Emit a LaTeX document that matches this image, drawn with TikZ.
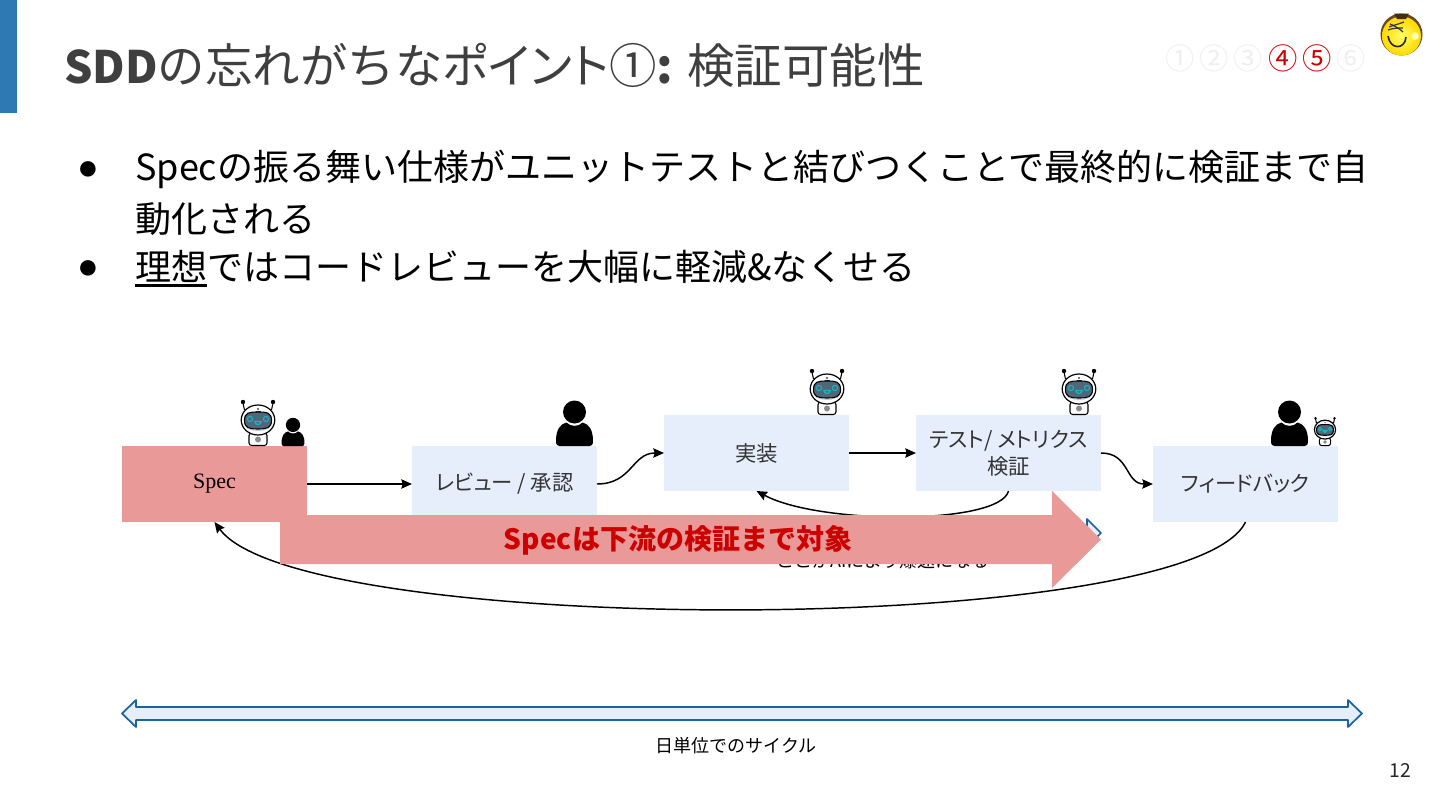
\documentclass[tikz,border=0pt]{standalone}
\usepackage{fontspec}
\usetikzlibrary{arrows.meta}
\setmainfont{Noto Sans CJK JP}
\newfontfamily\specserif{Liberation Serif}
\newfontfamily\dotfont{Liberation Sans}
\newfontfamily\paltfont[RawFeature=+palt]{Noto Sans CJK JP}
\definecolor{hdr}{HTML}{3F3F3F}
\definecolor{barblue}{HTML}{2E78B4}
\definecolor{boxblue}{HTML}{E6EEFB}
\definecolor{boxred}{HTML}{EA9999}
\definecolor{txtred}{HTML}{CC0000}
\definecolor{arrowblue}{HTML}{1A639F}
\definecolor{visor}{HTML}{50677A}
\definecolor{teal2}{HTML}{17B5C5}
\definecolor{faint}{HTML}{EFEFEF}
\newcommand{\fs}[1]{\fontsize{#1}{#1}\selectfont}
\tikzset{
  stepbox/.style={fill=boxblue,draw=none,minimum width=138.75pt,minimum height=57pt,inner sep=0pt,outer sep=0pt,align=center,font=\paltfont\fs{16},text=black!80},
  flow/.style={line width=1.1pt,-{Stealth[length=8pt,width=7pt,inset=1pt]}},
  bullettext/.style={anchor=west,inner sep=0pt,font=\fs{27},text=black},
  bulletdot/.style={inner sep=0pt,font=\dotfont\fs{27},text=black},
  circnum/.style={inner sep=0pt,font=\fs{22},text=faint},
  circon/.style={inner sep=0pt,font=\fs{22},text=txtred},
  robot/.pic={
    % body
    \draw[fill=white,line width=.8pt,rounded corners=2pt] (-9,-0.5)--(-9,-13)--(9,-13)--(9,-0.5)--cycle;
    \fill[black!45] (0,-6.5) circle[radius=3];
    % antennae
    \draw[line width=.8pt] (-13.5,-36)--(-15,-43) (13.5,-36)--(15,-43);
    \fill (-15,-44) circle[radius=2.2]; \fill (15,-44) circle[radius=2.2];
    % head
    \draw[fill=white,line width=.9pt] (0,-26) ellipse[x radius=16.8,y radius=15];
    \fill[black!22] (-16,-24) .. controls (-14,-13) and (14,-13) .. (16,-24) .. controls (13,-12) and (-13,-12) .. cycle;
    \fill[black!70] (-2.5,-35.5) rectangle (2.5,-34.5);
    \fill[black!70] (0,-37) circle[radius=1.1];
    \draw[fill=visor,line width=.8pt] (-13.5,-25.5) .. controls (-13.5,-33.5) and (-9,-34) .. (0,-34)
      .. controls (9,-34) and (13.5,-33.5) .. (13.5,-25.5)
      .. controls (13.5,-18) and (9,-17) .. (0,-17)
      .. controls (-9,-17) and (-13.5,-18) .. (-13.5,-25.5) -- cycle;
    \draw[teal2,line width=.8pt] (-8,-27) circle[radius=2.6] (8,-27) circle[radius=2.6];
    \draw[teal2,line width=.9pt] (-3.2,-24.5) .. controls (-3,-20.5) and (3,-20.5) .. (3.2,-24.5) -- cycle;
  },
  person/.pic={
    \fill (0,-34) circle[radius=11.5];
    \fill (-18.5,-5) .. controls (-18.5,-17) and (-14,-22) .. (-8,-23.5)
      .. controls (-4,-19) and (4,-19) .. (8,-23.5)
      .. controls (14,-22) and (18.5,-17) .. (18.5,-5)
      .. controls (18.5,-1) and (17,0) .. (15,0) -- (-15,0)
      .. controls (-17,0) and (-18.5,-1) .. (-18.5,-5) -- cycle;
  },
}
\begin{document}
\begin{tikzpicture}[x=0.75pt,y=-0.75pt]
\useasboundingbox (0,0) rectangle (1440,810);
\fill[white] (0,0) rectangle (1440,810);
\fill[barblue] (0,0) rectangle (17,113);
% title
\node[anchor=west,inner sep=0pt,text=hdr,font=\fs{35.6}] (title) at (64,65) {{\fs{33.5}\bfseries SDD}の忘れがちな{\paltfont ポイント}①{\bfseries :} 検証可能性};
% progress marks
\node[circnum] (c1) at (1180,58) {①};
\node[circnum] (c2) at (1214,58) {②};
\node[circnum] (c3) at (1248,58) {③};
\node[circon] (c4) at (1283,58) {④};
\node[circon] (c5) at (1317,58) {⑤};
\node[circnum] (c6) at (1351,58) {⑥};
% avatar
\fill[black!45!brown] (1401.5,34.5) circle[radius=21];
\shade[inner color=yellow!60!white,outer color=yellow!70!orange] (1401.5,36) circle[radius=19.5];
\fill[black!65!brown] (1394,13.5) -- (1409,13.5) -- (1406,19) -- (1397,19) -- cycle;
\shade[inner color=white,outer color=yellow!60!white] (1415,36) circle[radius=4];
\draw[line width=.9pt,black!80] (1389,27) .. controls (1394,25) and (1399,24) .. (1404,22);
\draw[line width=.9pt,black!80] (1388,30) .. controls (1393,28) and (1398,28) .. (1403,28);
\draw[line width=.9pt,black!80] (1390,24) .. controls (1395,26) and (1400,29) .. (1403,32);
\draw[line width=1.2pt,black!85] (1388,36) .. controls (1390,50) and (1405,50) .. (1406,37);
% bullets
\node[bulletdot] (d1) at (88,171) {●};
\node[bullettext] (b1) at (135,169.5) {Specの振る舞い仕様がユニットテストと結びつくことで最終的に検証まで自};
\node[bullettext] (b1b) at (135,219) {動化される};
\node[bulletdot] (d2) at (88,270) {●};
\node[bullettext] (b2) at (135,268.5) {\rlap{\rule[-4.7pt]{54pt}{1.8pt}}理想ではコードレビューを大幅に軽減\&なくせる};
% process boxes
\node[stepbox,fill=boxred,text=black,font=\specserif\fs{16.5}] (spec) at (214.5,484) {\raisebox{-2pt}{Spec}};
\node[stepbox] (review) at (504.5,484) {レビュー / 承認};
\node[stepbox] (impl) at (756.5,453) {実装};
\node[stepbox] (test) at (1008.5,453) {テスト/ メトリクス\\[3pt]検証};
\node[stepbox] (fb) at (1245.5,484) {フィードバック};
% icons
\pic at (258,446) {robot};
\pic[scale=.62] at (293,446) {person};
\pic at (574.5,446) {person};
\pic at (827,415) {robot};
\pic at (1079,415) {robot};
\pic at (1289.5,446) {person};
\pic[scale=.63] at (1325,446) {robot};
% connectors
\draw[flow] (spec.east) -- (review.west);
\draw[flow] (review.east) .. controls (632,484) and (632,453) .. (impl.west);
\draw[flow] (impl.east) -- (test.west);
\draw[flow] (test.east) .. controls (1130,453) and (1125,484) .. (fb.west);
\draw[flow] (test.south) .. controls (1000,525) and (820,525) .. (impl.south);
\draw[flow] (fb.south) .. controls (1190,638) and (300,638) .. (spec.south);
% hidden items under the red arrow
\node[inner sep=0pt,font=\fs{13.5},text=black] (fast) at (883,561) {ここがAIにより爆速になる};
\draw[arrowblue,line width=1.3pt,fill=boxblue,line join=round]
  (1101,533) -- (1087,519) -- (1087,526) -- (300,526) -- (300,540) -- (1087,540) -- (1087,547) -- cycle;
% red arrow
\fill[boxred] (280,515) -- (1052,515) -- (1052,491) -- (1101,539.5) -- (1052,588) -- (1052,564) -- (280,564) -- cycle;
\node[inner sep=0pt,font=\fs{21}\bfseries,text=txtred] (scope) at (678,540.5) {Specは下流の検証まで対象};
% bottom span arrow
\coordinate (spanl) at (122,713.5);
\coordinate (spanr) at (1362,713.5);
\draw[arrowblue,line width=1.3pt,fill=boxblue,line join=round]
  (spanl) -- (136,700) -- (136,707) -- (1348,707) -- (1348,700) -- (spanr) -- (1348,727) -- (1348,720) -- (136,720) -- (136,727) -- cycle;
\node[inner sep=0pt,font=\fs{13.5},text=black] (cycle) at (736,746) {日単位でのサイクル};
\node[inner sep=0pt,font=\fs{14.5},text=black!85] (page) at (1400.5,770) {12};
\end{tikzpicture}
\end{document}
